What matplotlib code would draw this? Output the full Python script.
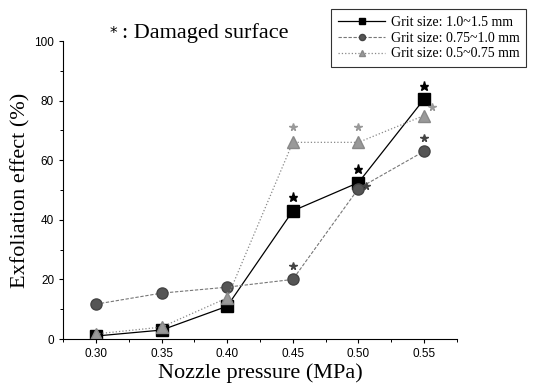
import numpy as np
import matplotlib
matplotlib.use("Agg")
import matplotlib.pyplot as plt
from matplotlib.ticker import MultipleLocator

pressure = [0.30, 0.35, 0.40, 0.45, 0.50, 0.55]
grit_large = [1.0, 3.0, 11.0, 43.0, 52.5, 80.5]
grit_mid = [11.7, 15.4, 17.4, 20.0, 50.5, 63.0]
grit_small = [1.7, 4.0, 13.8, 66.0, 66.0, 75.0]
labels = ["Grit size: 1.0~1.5 mm", "Grit size: 0.75~1.0 mm", "Grit size: 0.5~0.75 mm"]
# damaged points (index into pressure)
damaged = [3, 4, 5]

fig = plt.figure(figsize=(5.35, 3.89), dpi=100)
ax = fig.add_axes([0.118, 0.1285, 0.736, 0.766])

l1, = ax.plot(pressure, grit_large, "-", color="black", lw=0.9,
              marker="s", ms=8, mfc="black", mec="black")
l2, = ax.plot(pressure, grit_mid, "--", color="#777777", lw=0.8, dashes=(3, 1.5),
              marker="o", ms=8, mfc="#555555", mec="#444444")
l3, = ax.plot(pressure, grit_small, ":", color="#888888", lw=0.9,
              marker="^", ms=9, mfc="#999999", mec="#888888")

# stars over damaged points
sx = [pressure[i] for i in damaged]
ax.plot(sx, [grit_large[i] + 4.5 for i in damaged], "*", ls="none",
        ms=6.5, color="black")
mid_off = {3: (0.0, 4.5), 4: (0.006, 1.0), 5: (0.0, 4.5)}
ax.plot([pressure[i] + mid_off[i][0] for i in damaged],
        [grit_mid[i] + mid_off[i][1] for i in damaged], "*", ls="none",
        ms=5.5, color="#444444")
small_off = {3: (0.0, 5.0), 4: (0.0, 5.0), 5: (0.006, 3.0)}
ax.plot([pressure[i] + small_off[i][0] for i in damaged],
        [grit_small[i] + small_off[i][1] for i in damaged], "*", ls="none",
        ms=5.5, color="#999999")

ax.set_xlim(0.275, 0.575)
ax.set_ylim(0, 100)
ax.set_xticks(pressure)
ax.set_xticklabels(["%.2f" % p for p in pressure])
ax.xaxis.set_minor_locator(MultipleLocator(0.025))
ax.yaxis.set_major_locator(MultipleLocator(20))
ax.yaxis.set_minor_locator(MultipleLocator(10))
ax.tick_params(which="major", direction="out", length=3, width=0.8, labelsize=8.5)
ax.tick_params(which="minor", direction="out", length=2, width=0.7)
for lab in ax.get_xticklabels() + ax.get_yticklabels():
    lab.set_family("Liberation Sans")
ax.spines["top"].set_visible(False)
ax.spines["right"].set_visible(False)

ax.set_xlabel("Nozzle pressure (MPa)", family="Liberation Serif", fontsize=16, labelpad=2)
ax.set_ylabel("Exfoliation effect (%)", family="Liberation Serif", fontsize=16, labelpad=3)

fig.text(0.205, 0.913, "*", family="DejaVu Sans", fontsize=11, ha="left", va="center")
fig.text(0.228, 0.915, ": Damaged surface", family="Liberation Serif", fontsize=16,
         ha="left", va="center")

leg = fig.legend([l1, l2, l3], labels, loc="upper right", bbox_to_anchor=(0.997, 0.995),
                 prop={"family": "Liberation Serif", "size": 10}, frameon=True,
                 fancybox=False, edgecolor="black", markerscale=0.55,
                 handlelength=3.4, handletextpad=0.4, borderpad=0.5, labelspacing=0.2)
leg.get_frame().set_linewidth(0.8)

fig.savefig("out.png", dpi=100)
